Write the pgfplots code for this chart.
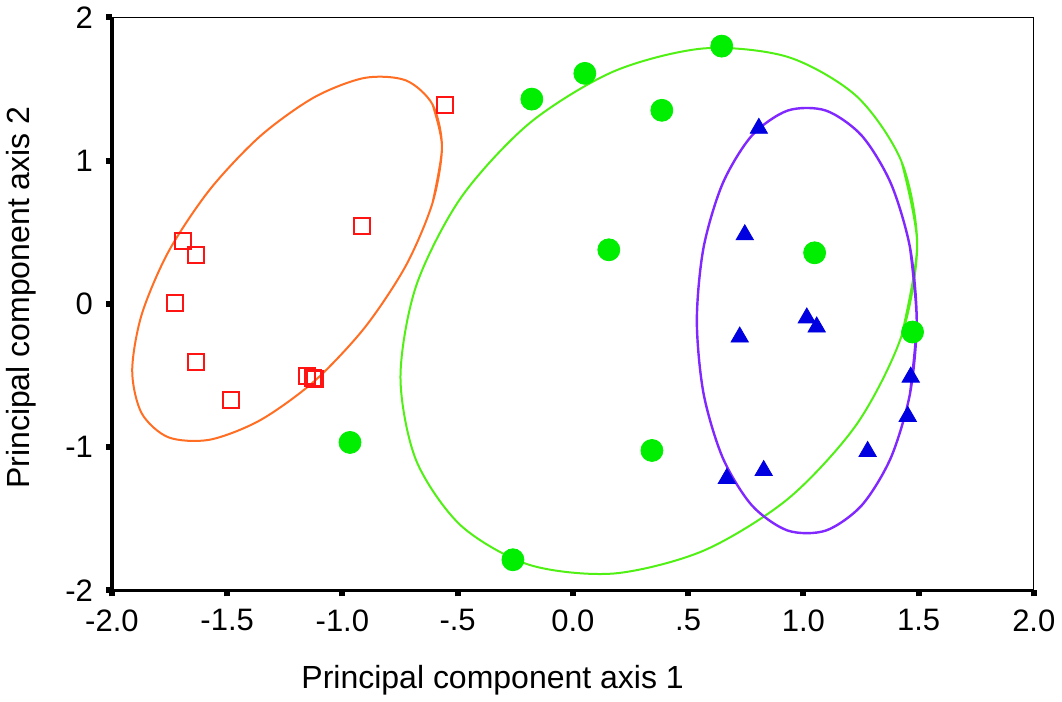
\documentclass[border=0pt]{standalone}
\usepackage{fontspec}
\setmainfont{Liberation Sans}
\usepackage{pgfplots}
\pgfplotsset{compat=1.18}

\definecolor{sqred}{RGB}{255,20,20}
\definecolor{dotgreen}{RGB}{0,238,0}
\definecolor{triblue}{RGB}{0,0,225}
\definecolor{ellorange}{RGB}{255,110,35}
\definecolor{ellgreen}{RGB}{80,240,20}
\definecolor{ellpurple}{RGB}{128,40,255}

\begin{document}
\begin{tikzpicture}
\begin{axis}[
  scale only axis,
  width=461pt, height=286.5pt,
  xmin=-2, xmax=2, ymin=-2, ymax=2,
  xtick={-2,-1.5,-1,-0.5,0,0.5,1,1.5,2},
  xticklabels={-2.0,-1.5,-1.0,-.5,0.0,.5,1.0,1.5,2.0},
  ytick={-2,-1,0,1,2},
  yticklabels={-2,-1,0,1,2},
  xtick pos=left, ytick pos=left,
  tick align=outside,
  major tick length=3pt,
  tick style={black, line width=3pt},
  axis line style={black, line width=0.6pt},
  ticklabel style={font=\fontsize{15.5}{18}\selectfont},
  xticklabel style={yshift=-3pt},
  yticklabel style={xshift=-3pt},
  label style={font=\fontsize{16}{19}\selectfont},
  xlabel={Principal component axis 1},
  ylabel={Principal component axis 2},
  xlabel style={at={(axis description cs:0.413,-0.156)}, anchor=center},
  ylabel style={at={(axis description cs:-0.098,0.511)}, anchor=center},
  clip=false,
]
% heavier left and bottom axis lines
\draw[black, line width=1.6pt] (rel axis cs:0,1) -- (rel axis cs:0,0) -- (rel axis cs:1,0);

% confidence ellipses (ends overlap to close smoothly)
\addplot[ellorange, line width=1pt, smooth, no markers] coordinates {
 (-0.609,0.705)
 (-0.568,1.096) (-0.609,1.393) (-0.725,1.561) (-0.904,1.578) (-1.123,1.442)
 (-1.357,1.171) (-1.576,0.797) (-1.755,0.364) (-1.871,-0.075) (-1.912,-0.466)
 (-1.871,-0.763) (-1.755,-0.931) (-1.576,-0.948) (-1.357,-0.812) (-1.123,-0.541)
 (-0.904,-0.167) (-0.725,0.266) (-0.609,0.705) (-0.568,1.096) (-0.609,1.393)
};
\addplot[ellgreen, line width=1pt, smooth, no markers] coordinates {
 (1.426,-0.224)
 (1.494,0.413) (1.426,0.994) (1.232,1.449) (0.934,1.724) (0.568,1.784)
 (0.178,1.624) (-0.188,1.262) (-0.486,0.741) (-0.680,0.126) (-0.748,-0.511)
 (-0.680,-1.092) (-0.486,-1.547) (-0.188,-1.822) (0.178,-1.882) (0.568,-1.722)
 (0.934,-1.360) (1.232,-0.839) (1.426,-0.224) (1.494,0.413) (1.426,0.994)
};
\addplot[ellpurple, line width=1.2pt, smooth, no markers] coordinates {
 (1.463,-0.625)
 (1.492,-0.116) (1.463,0.393) (1.380,0.841) (1.254,1.174) (1.098,1.350)
 (0.932,1.350) (0.776,1.174) (0.650,0.841) (0.567,0.393) (0.538,-0.116)
 (0.567,-0.625) (0.650,-1.073) (0.776,-1.405) (0.932,-1.582) (1.098,-1.582)
 (1.254,-1.405) (1.380,-1.073) (1.463,-0.625) (1.492,-0.116) (1.463,0.393)
};

% group 1: open squares
\addplot[only marks, mark=square, mark size=4pt, sqred, line width=1pt] coordinates {
 (-0.555,1.387) (-0.915,0.546) (-1.691,0.441) (-1.635,0.343) (-1.726,0.007)
 (-1.635,-0.406) (-1.483,-0.672) (-1.153,-0.504) (-1.127,-0.518) (-1.118,-0.525)
};
% group 2: filled circles
\addplot[only marks, mark=*, mark size=5.5pt, dotgreen, mark options={draw=dotgreen, fill=dotgreen}] coordinates {
 (0.646,1.800) (0.052,1.610) (-0.178,1.430) (0.386,1.352) (0.156,0.378)
 (1.049,0.357) (1.474,-0.196) (-0.967,-0.967) (0.343,-1.023) (-0.260,-1.786)
};
% group 3: filled triangles
\addplot[only marks, mark=triangle*, mark size=5pt, triblue, mark options={draw=triblue, fill=triblue}] coordinates {
 (0.807,1.226) (0.746,0.483) (1.015,-0.098) (1.058,-0.161) (0.724,-0.231)
 (1.466,-0.511) (1.453,-0.785) (1.279,-1.030) (0.668,-1.219) (0.828,-1.163)
};
\end{axis}
\end{tikzpicture}
\end{document}
